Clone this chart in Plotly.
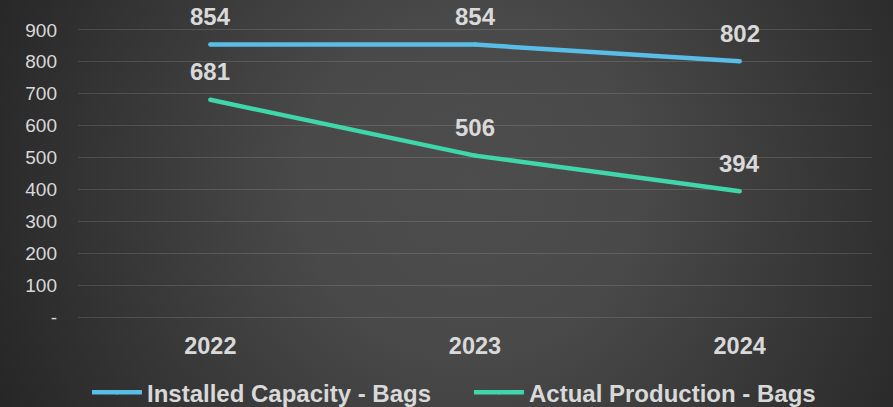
import base64
import plotly.graph_objects as go

# ---- data ----
years = ["2022", "2023", "2024"]
installed_capacity = [854, 854, 802]
actual_production = [681, 506, 394]
y_tick_values = [0, 100, 200, 300, 400, 500, 600, 700, 800, 900]
y_tick_labels = ["-", "100", "200", "300", "400", "500", "600", "700", "800", "900"]
series_names = ["Installed Capacity - Bags", "Actual Production - Bags"]

# ---- styling ----
W, H = 893, 407
M_L, M_R, M_T, M_B = 78, 21, 14, 90
BLUE = "#58BEE7"
GREEN = "#3FD6A9"
TEXT = "#D9D9D9"
FONT = "Liberation Sans, Arial, sans-serif"

# radial dark-grey backdrop as an SVG image
svg = f"""<svg xmlns='http://www.w3.org/2000/svg' width='{W}' height='{H}' viewBox='0 0 {W} {H}' preserveAspectRatio='none'>
<defs><radialGradient id='g' gradientUnits='userSpaceOnUse' cx='470' cy='185' r='560'>
<stop offset='0' stop-color='#4d4d4d'/>
<stop offset='0.3' stop-color='#494949'/>
<stop offset='1' stop-color='#222222'/>
</radialGradient></defs>
<rect x='0' y='0' width='{W}' height='{H}' fill='url(#g)'/></svg>"""
bg_src = "data:image/svg+xml;base64," + base64.b64encode(svg.encode()).decode()

plot_w = W - M_L - M_R
plot_h = H - M_T - M_B

fig = go.Figure()
for name, values, color in [
    (series_names[0], installed_capacity, BLUE),
    (series_names[1], actual_production, GREEN),
]:
    fig.add_trace(go.Scatter(
        x=years, y=values, name=name, mode="lines+markers",
        line=dict(color=color, width=4.5),
        marker=dict(color=color, size=4.5),
        hoverinfo="skip",
    ))
    # value labels above each point (category index positions)
    for i, yv in enumerate(values):
        fig.add_annotation(
            x=i, y=yv, text=str(yv), showarrow=False, yshift=28,
            font=dict(family=FONT, size=24, color=TEXT, weight="bold"),
        )

fig.add_layout_image(
    source=bg_src, xref="paper", yref="paper",
    x=-M_L / plot_w, y=1 + M_T / plot_h,
    sizex=W / plot_w, sizey=H / plot_h,
    xanchor="left", yanchor="top", sizing="stretch", layer="below",
)

fig.update_layout(
    width=W, height=H,
    margin=dict(l=M_L, r=M_R, t=M_T, b=M_B, autoexpand=False),
    paper_bgcolor="#262626",
    plot_bgcolor="rgba(0,0,0,0)",
    font=dict(family=FONT, color=TEXT),
    showlegend=True,
    legend=dict(
        orientation="h", x=0.4924, xanchor="center", y=-0.25, yanchor="middle",
        font=dict(family=FONT, size=24, color=TEXT, weight="bold"),
        itemwidth=50, entrywidth=317, bgcolor="rgba(0,0,0,0)",
    ),
    xaxis=dict(
        type="category", range=[-0.5, 2.5], showgrid=False, zeroline=False,
        showline=False, ticks="",
        tickfont=dict(family=FONT, size=23.5, color=TEXT, weight="bold"),
        ticklabelstandoff=12,
    ),
    yaxis=dict(
        range=[0, 950], tickvals=y_tick_values, ticktext=y_tick_labels,
        showgrid=True, gridcolor="rgba(255,255,255,0.13)", gridwidth=1.3,
        zeroline=True, zerolinecolor="rgba(255,255,255,0.13)", zerolinewidth=1.3,
        showline=False, ticks="",
        tickfont=dict(family=FONT, size=19, color=TEXT),
        ticklabelstandoff=20,
    ),
)

fig.write_html("out.html")
